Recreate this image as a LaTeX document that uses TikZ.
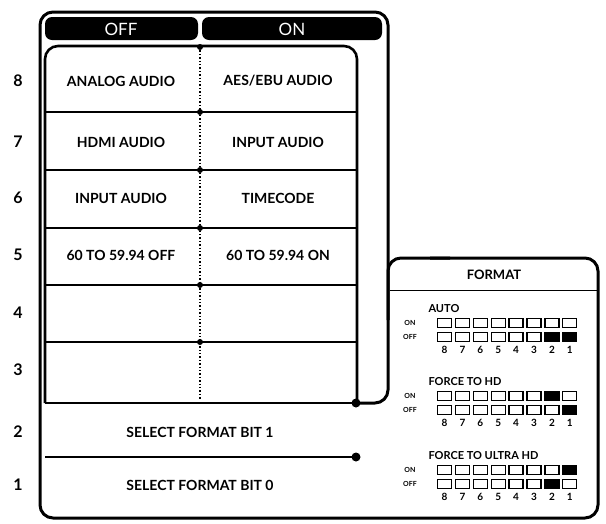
\documentclass[tikz,border=0pt]{standalone}
\usepackage{fontspec}
\setmainfont{Lato}
\begin{document}
\begin{tikzpicture}[x=1pt,y=-1pt,
  lbl/.style={font=\bfseries\fontsize{14}{16}\selectfont},
  num/.style={font=\bfseries\fontsize{16}{18}\selectfont},
  tab/.style={fill=black,rounded corners=7pt},
  dot/.style={circle,fill=black,inner sep=0pt,minimum size=6pt},
  sq/.style={draw,line width=1.3pt,minimum width=14pt,minimum height=9pt,inner sep=0pt},
  sqf/.style={sq,fill=black},
  tiny/.style={font=\bfseries\fontsize{7}{8}\selectfont},
  sub/.style={font=\bfseries\fontsize{11}{12}\selectfont,anchor=west},
  small/.style={font=\bfseries\fontsize{10}{11}\selectfont}]
\useasboundingbox (0,0) rectangle (606,523);
% outer contour
\draw[line width=3pt,rounded corners=13pt] (356,403) -- (388,403) -- (388,12) -- (40,12) -- (40,518) -- (598,518) -- (598,258) -- (430,258);
\draw[line width=3pt,rounded corners=13pt] (450,258) -- (388,258) -- (388,320);
% tabs
\fill[tab] (45,40) -- (45,17) -- (198,17) -- (198,40) -- cycle;
\fill[tab] (202,40) -- (202,17) -- (382,17) -- (382,40) -- cycle;
\node[text=white,font=\fontsize{17}{18}\selectfont] (toff) at (121,29) {OFF};
\node[text=white,font=\fontsize{17}{18}\selectfont] (ton) at (292,29) {ON};
% inner box
\draw[line width=2.6pt,rounded corners=13pt] (45,403) -- (45,46) -- (357,46) -- (357,403);
\foreach \y in {112,170,228,285,342} \draw[line width=1.5pt] (45,\y) -- (357,\y);
\draw[line width=1.8pt] (45,403) -- (357,403);
\draw[line width=1.8pt] (45,457) -- (356,457);
\draw[line width=1.4pt,dotted] (200,47) -- (200,400);
\foreach \y/\n in {47/d8,112/d7,170/d6,228/d5,285/d4,342/d3} \node[dot] (\n) at (200,\y) {};
\node[dot,minimum size=9pt] (b2) at (356,403) {};
\node[dot,minimum size=9pt] (b1) at (356,457) {};
% row numbers
\foreach \y/\t in {81/8,142/7,198/6,255/5,313/4,370/3,432/2,485/1} \node[num] (n\t) at (18,\y) {\t};
% labels
\node[lbl] (a8) at (121,81) {ANALOG AUDIO};
\node[lbl] (b8) at (278,81) {AES/EBU AUDIO};
\node[lbl] (a7) at (121,142) {HDMI AUDIO};
\node[lbl] (b7) at (278,142) {INPUT AUDIO};
\node[lbl] (a6) at (121,198) {INPUT AUDIO};
\node[lbl] (b6) at (278,198) {TIMECODE};
\node[lbl] (a5) at (121,255) {60 TO 59.94 OFF};
\node[lbl] (b5) at (278,255) {60 TO 59.94 ON};
\node[lbl] (s2) at (200,432) {SELECT FORMAT BIT 1};
\node[lbl] (s1) at (200,485) {SELECT FORMAT BIT 0};
% format box
\node[lbl,font=\bfseries\fontsize{13}{14}\selectfont] (fmt) at (494,275) {FORMAT};
\draw[line width=1pt] (390,290) -- (597,290);
\foreach \ly/\onA/\offA/\offB/\nm [count=\g] in {309/0/2/1/AUTO,382/2/1/0/FORCE TO HD,456/1/2/0/FORCE TO ULTRA HD}{
  \node[sub] (g\g) at (425,\ly) {\nm};
  \pgfmathsetmacro{\ya}{\ly+14}
  \pgfmathsetmacro{\yb}{\ly+28}
  \pgfmathsetmacro{\yc}{\ly+41}
  \node[tiny] (on\g) at (410,\ya) {ON};
  \node[tiny] (off\g) at (410,\yb) {OFF};
  \foreach \k in {1,...,8}{
    \pgfmathtruncatemacro{\lab}{9-\k}
    \pgfmathsetmacro{\xx}{444.5+(\k-1)*17.9}
    \ifnum\lab=\onA \node[sqf] (p\g\k) at (\xx,\ya) {}; \else \node[sq] (p\g\k) at (\xx,\ya) {}; \fi
    \pgfmathtruncatemacro{\isoff}{(\lab==\offA)||(\lab==\offB)}
    \ifnum\isoff=1 \node[sqf] (q\g\k) at (\xx,\yb) {}; \else \node[sq] (q\g\k) at (\xx,\yb) {}; \fi
    \node[small] (r\g\k) at (\xx,\yc) {\lab};
  }
}
\end{tikzpicture}
\end{document}
